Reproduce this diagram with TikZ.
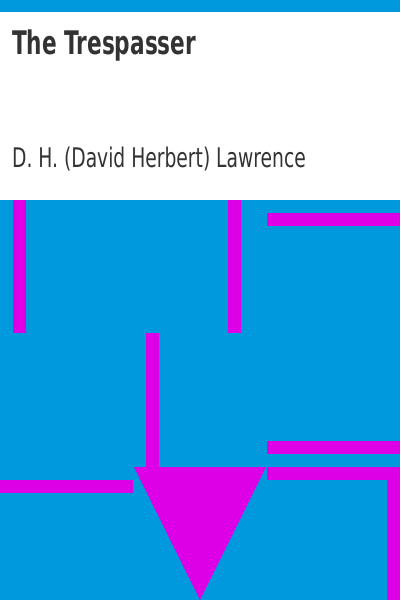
\documentclass[tikz,border=0pt]{standalone}
\usepackage{fontspec}
\newfontfamily\titlefont[FakeStretch=0.74,BoldFeatures={FakeStretch=0.74}]{DejaVu Sans Condensed}
\newfontfamily\authorfont[FakeStretch=0.77]{DejaVu Sans Condensed}
\definecolor{bgblue}{RGB}{0,153,221}
\definecolor{mag}{RGB}{221,0,230}
\definecolor{txt}{RGB}{51,51,51}
\begin{document}
\begin{tikzpicture}[x=1pt,y=-1pt,
  bar/.style={fill=mag},
  titletext/.style={anchor=base west,inner sep=0pt,text=txt,font=\titlefont\bfseries\fontsize{32.5}{36}\selectfont},
  authortext/.style={anchor=base west,inner sep=0pt,text=txt,font=\authorfont\fontsize{27}{32}\selectfont}]
\useasboundingbox (0,0) rectangle (400,600);
\fill[bgblue] (0,0) rectangle (400,600);
\fill[white] (0,12) rectangle (400,200);
% bars
\fill[bar] (13,200) rectangle (26,333);
\fill[bar] (228,200) rectangle (241,333);
\fill[bar] (267,213) rectangle (400,226);
\fill[bar] (146,333) rectangle (159,467);
\fill[bar] (0,480) rectangle (133,493);
\fill[bar] (267,441) rectangle (400,454);
\fill[bar] (267,467) rectangle (400,480);
\fill[bar] (387,480) rectangle (400,600);
\fill[bar] (134,467) -- (266,467) -- (200,600) -- cycle;
% texts
\node[titletext] (title) at (12,54) {The Trespasser};
\node[authortext] (author) at (12,167) {D. H. (David Herbert) Lawrence};
\end{tikzpicture}
\end{document}
